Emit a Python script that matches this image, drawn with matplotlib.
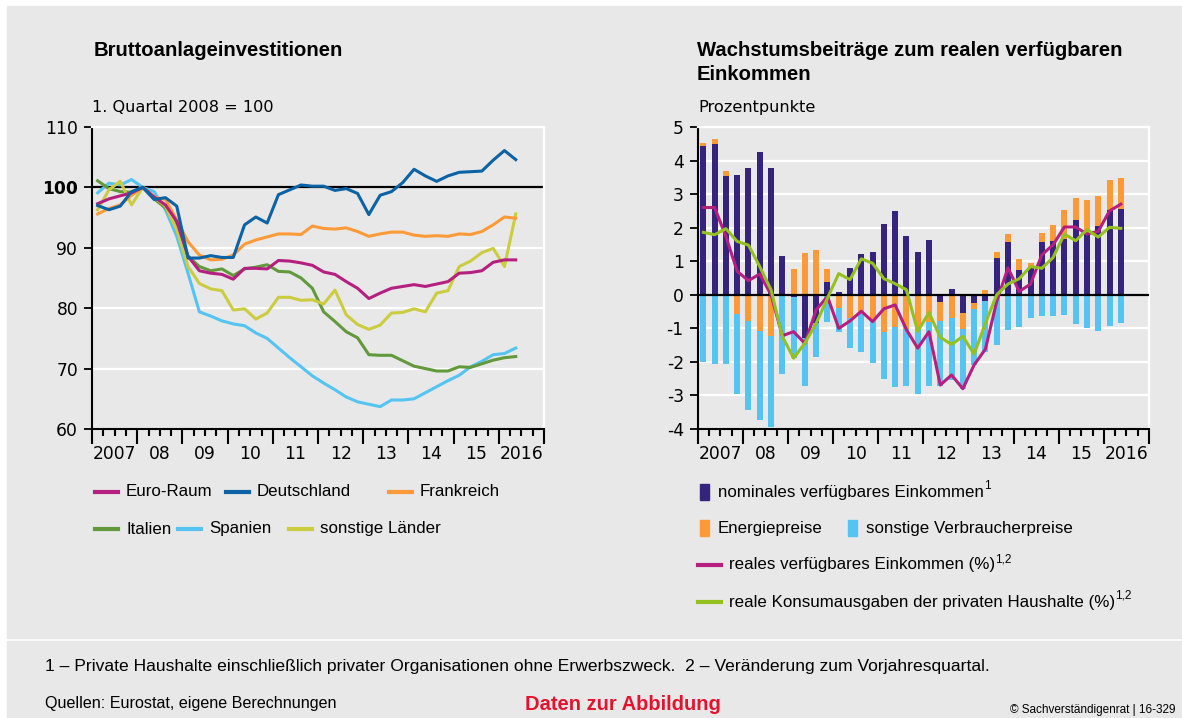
import matplotlib
matplotlib.use("Agg")
import matplotlib.pyplot as plt
import matplotlib.transforms as mtransforms
from matplotlib.patches import Rectangle
from matplotlib.lines import Line2D
import numpy as np

W, H = 1182, 718

# ── Data ──────────────────────────────────────────────────────────────────────
START_YEAR = 2007
N_QUARTERS = 38          # 2007 Q1 … 2016 Q2
YEAR_LABELS = ["2007", "08", "09", "10", "11", "12", "13", "14", "15", "2016"]

# Bruttoanlageinvestitionen, 1. Quartal 2008 = 100
euro_raum = [97.3, 98.1, 98.6, 99.1, 100.0, 98.4, 97.1, 94.4, 88.6, 86.2,
             85.8, 85.6, 84.8, 86.6, 86.6, 86.5, 87.9, 87.8, 87.5, 87.1,
             86.0, 85.6, 84.4, 83.3, 81.6, 82.5, 83.3, 83.6, 83.9, 83.6,
             84.0, 84.4, 85.8, 85.9, 86.2, 87.6, 88.0, 88.0]
deutschland = [97.0, 96.3, 96.9, 99.3, 100.0, 98.0, 98.3, 96.9, 88.3, 88.3,
               88.7, 88.4, 88.4, 93.8, 95.1, 94.1, 98.8, 99.6, 100.4, 100.2,
               100.2, 99.5, 99.8, 99.0, 95.5, 98.7, 99.3, 100.8, 103.0, 101.9,
               101.0, 101.9, 102.5, 102.6, 102.7, 104.5, 106.1, 104.6]
frankreich = [95.6, 96.5, 97.1, 98.7, 100.0, 98.4, 98.0, 94.6, 91.0, 88.8,
              88.0, 88.1, 88.8, 90.6, 91.3, 91.8, 92.3, 92.3, 92.2, 93.6,
              93.2, 93.1, 93.3, 92.7, 91.9, 92.3, 92.6, 92.6, 92.1, 91.9,
              92.0, 91.9, 92.3, 92.2, 92.7, 93.8, 95.1, 94.9]
italien = [101.1, 99.8, 99.3, 99.2, 100.0, 98.1, 96.6, 93.8, 88.6, 86.9,
           86.2, 86.5, 85.4, 86.5, 86.8, 87.2, 86.1, 86.0, 85.0, 83.3,
           79.4, 77.8, 76.1, 75.1, 72.3, 72.2, 72.2, 71.3, 70.4, 70.0,
           69.6, 69.6, 70.3, 70.2, 70.8, 71.4, 71.8, 72.0]
spanien = [99.1, 100.7, 100.4, 101.3, 100.0, 99.3, 96.3, 91.9, 85.8, 79.4,
           78.7, 77.9, 77.4, 77.1, 75.9, 75.0, 73.4, 71.8, 70.3, 68.8,
           67.6, 66.5, 65.3, 64.5, 64.1, 63.7, 64.8, 64.8, 65.0, 66.0,
           67.0, 68.0, 68.9, 70.3, 71.2, 72.3, 72.5, 73.4]
sonstige = [96.3, 99.6, 101.0, 97.1, 100.0, 98.4, 96.9, 93.0, 86.9, 84.1,
            83.2, 82.9, 79.7, 79.9, 78.2, 79.2, 81.8, 81.8, 81.3, 81.4,
            80.7, 83.0, 78.9, 77.3, 76.5, 77.2, 79.2, 79.3, 79.9, 79.4,
            82.5, 82.9, 86.9, 87.8, 89.2, 89.9, 86.9, 95.6]

# Wachstumsbeiträge, Prozentpunkte
nominal = [4.44, 4.50, 3.55, 3.58, 3.79, 4.26, 3.79, 1.16, -0.07, -1.29,
           -0.85, 0.38, 0.09, 0.81, 1.22, 1.28, 2.12, 2.50, 1.76, 1.28,
           1.64, -0.21, 0.18, -0.53, -0.24, -0.18, 1.11, 1.58, 0.75, 0.83,
           1.58, 1.61, 1.66, 2.24, 1.84, 2.06, 2.53, 2.56]
energie = [0.08, 0.15, 0.15, -0.57, -0.78, -1.07, -1.22, 0.0, 0.77, 1.24,
           1.34, 0.39, -0.38, -0.70, -0.55, -0.75, -1.12, -0.97, -1.02, -1.00,
           -0.80, -0.57, -0.68, -0.48, -0.18, 0.15, 0.17, 0.24, 0.33, 0.12,
           0.27, 0.48, 0.87, 0.65, 0.97, 0.89, 0.90, 0.93]
verbraucher = [-1.99, -2.06, -2.06, -2.38, -2.65, -2.66, -2.71, -2.36, -1.81, -1.44,
               -0.99, -0.80, -0.74, -0.90, -1.17, -1.27, -1.38, -1.79, -1.69, -1.95,
               -1.91, -1.93, -1.86, -1.80, -1.67, -1.54, -1.50, -1.04, -0.97, -0.68,
               -0.62, -0.62, -0.59, -0.86, -0.98, -1.07, -0.93, -0.83]
real_einkommen = [2.60, 2.60, 1.74, 0.70, 0.42, 0.62, 0.00, -1.22, -1.10, -1.45,
                  -0.45, -0.05, -1.00, -0.78, -0.49, -0.80, -0.42, -0.30, -1.04, -1.59,
                  -1.10, -2.69, -2.39, -2.80, -2.09, -1.62, -0.20, 0.80, 0.10, 0.32,
                  1.19, 1.49, 2.02, 2.02, 1.81, 1.89, 2.50, 2.70]
real_konsum = [1.86, 1.79, 1.97, 1.59, 1.48, 0.84, 0.15, -1.24, -1.89, -1.44,
               -0.85, -0.10, 0.63, 0.45, 1.07, 0.94, 0.48, 0.33, 0.15, -1.09,
               -0.53, -1.27, -1.48, -1.24, -1.77, -0.85, 0.00, 0.32, 0.48, 0.84,
               0.79, 1.11, 1.81, 1.61, 1.94, 1.72, 2.01, 1.98]

# ── Style ─────────────────────────────────────────────────────────────────────
BG = "#e8e8e8"
MAGENTA = "#b41f80"
DBLUE = "#0b62a4"
ORANGE = "#fd9a38"
GREEN = "#62993a"
LBLUE = "#55c4f2"
YELLOW = "#cccc40"
NAVY = "#35237e"
LIME = "#94c11f"
RED = "#e3132d"

TEXT_FONT = ["Liberation Sans", "DejaVu Sans"]
TICK_FONT = ["DejaVu Sans"]
TICK_SIZE = 12.3
LEG_SIZE = 12.2

x = START_YEAR + (np.arange(N_QUARTERS) + 0.5) / 4


def fxy(px, py):
    return px / W, 1 - py / H


fig = plt.figure(figsize=(W / 100, H / 100), dpi=100)
fig.patch.set_facecolor("white")
fig.add_artist(Rectangle(fxy(7, 638), (W - 7) / W, (638 - 6) / H,
                         transform=fig.transFigure, color=BG, zorder=-10))
fig.add_artist(Rectangle(fxy(7, 718), (W - 7) / W, (718 - 641) / H,
                         transform=fig.transFigure, color=BG, zorder=-10))


def style_axes(ax, ylim, yticks, ylabels):
    ax.set_facecolor(BG)
    ax.set_xlim(START_YEAR, START_YEAR + 10)
    ax.set_ylim(*ylim)
    ax.set_yticks(yticks)
    ax.set_yticklabels(ylabels, family=TICK_FONT, fontsize=TICK_SIZE)
    ax.set_xticks(np.arange(START_YEAR, START_YEAR + 11))
    ax.set_xticks(np.arange(START_YEAR, START_YEAR + 10.01, 0.25), minor=True)
    ax.set_xticklabels([])
    ax.tick_params(axis="x", which="major", length=11, width=1.5, direction="out", color="black")
    ax.tick_params(axis="x", which="minor", length=5, width=1.5, direction="out", color="black")
    ax.tick_params(axis="y", length=6, width=1.3, pad=4, color="black")
    ax.yaxis.grid(True, color="white", linewidth=1.6, zorder=0)
    ax.set_axisbelow(True)
    ax.spines["left"].set_linewidth(1.5)
    ax.spines["bottom"].set_linewidth(1.5)
    ax.spines["right"].set_color("white")
    ax.spines["right"].set_linewidth(1.6)
    ax.spines["top"].set_color("white")
    ax.spines["top"].set_linewidth(1.6)
    trans = mtransforms.blended_transform_factory(ax.transData, fig.transFigure)
    for k, lab in enumerate(YEAR_LABELS):
        ax.text(START_YEAR + k + 0.5, 1 - 454 / H, lab, transform=trans,
                ha="center", va="center", family=TICK_FONT, fontsize=TICK_SIZE)


# ── Left: Bruttoanlageinvestitionen ───────────────────────────────────────────
ax1 = fig.add_axes([92 / W, 1 - 429 / H, 452 / W, 302 / H])
style_axes(ax1, (60, 110), [60, 70, 80, 90, 100, 110],
           ["60", "70", "80", "90", "100", "110"])
ax1.get_yticklabels()[4].set_fontweight("bold")
ax1.axhline(100, color="black", linewidth=1.6, zorder=1)
left_series = [
    (spanien, LBLUE), (italien, GREEN), (sonstige, YELLOW),
    (frankreich, ORANGE), (euro_raum, MAGENTA), (deutschland, DBLUE),
]
for vals, col in left_series:
    ax1.plot(x, vals, color=col, linewidth=2.2, zorder=3)

# ── Right: Wachstumsbeiträge ──────────────────────────────────────────────────
ax2 = fig.add_axes([697.7 / W, 1 - 429 / H, 451.3 / W, 302 / H])
style_axes(ax2, (-4, 5), list(range(-4, 6)), [str(v) for v in range(-4, 6)])
pos_base = np.zeros(N_QUARTERS)
neg_base = np.zeros(N_QUARTERS)
for vals, col in [(nominal, NAVY), (energie, ORANGE), (verbraucher, LBLUE)]:
    v = np.asarray(vals)
    bottom = np.where(v >= 0, pos_base, neg_base)
    ax2.bar(x, v, width=0.133, bottom=bottom, color=col, linewidth=0, zorder=2)
    pos_base += np.clip(v, 0, None)
    neg_base += np.clip(v, None, 0)
ax2.axhline(0, color="black", linewidth=1.6, zorder=3)
ax2.plot(x, real_einkommen, color=MAGENTA, linewidth=2.2, zorder=4)
ax2.plot(x, real_konsum, color=LIME, linewidth=2.2, zorder=5)

# ── Titles ────────────────────────────────────────────────────────────────────
TITLE_KW = dict(family=TEXT_FONT, fontweight="bold", fontsize=14.6, va="baseline")
fig.text(*fxy(94, 56), "Bruttoanlageinvestitionen", **TITLE_KW)
fig.text(*fxy(697, 56), "Wachstumsbeiträge zum realen verfügbaren", **TITLE_KW)
fig.text(*fxy(697, 80), "Einkommen", **TITLE_KW)
fig.text(*fxy(92, 112), "1. Quartal 2008 = 100", family=TICK_FONT, fontsize=11.6, va="baseline")
fig.text(*fxy(698, 112), "Prozentpunkte", family=TICK_FONT, fontsize=11.6, va="baseline")

# ── Legends ───────────────────────────────────────────────────────────────────
renderer = fig.canvas.get_renderer()


def add_sup(t, py, sup):
    bb = t.get_window_extent(renderer)
    fig.text(bb.x1 / W, 1 - (py - 6) / H, sup, family=TEXT_FONT,
             fontsize=8.5, va="center")


def leg_line(px, py, col, label, sup=None):
    fig.add_artist(Line2D([px / W, (px + 23) / W], [1 - py / H] * 2, color=col,
                          linewidth=3, transform=fig.transFigure))
    t = fig.text(*fxy(px + 31, py), label, family=TEXT_FONT, fontsize=LEG_SIZE, va="center")
    if sup:
        add_sup(t, py, sup)


def leg_box(px, py, col, label, sup=None):
    fig.add_artist(Rectangle((px / W, 1 - (py + 8) / H), 9 / W, 16 / H,
                             color=col, transform=fig.transFigure))
    t = fig.text(*fxy(px + 18, py), label, family=TEXT_FONT, fontsize=LEG_SIZE, va="center")
    if sup:
        add_sup(t, py, sup)


leg_line(95, 492, MAGENTA, "Euro-Raum")
leg_line(226, 492, DBLUE, "Deutschland")
leg_line(389, 492, ORANGE, "Frankreich")
leg_line(95, 529, GREEN, "Italien")
leg_line(178, 529, LBLUE, "Spanien")
leg_line(289, 529, YELLOW, "sonstige Länder")

leg_box(700, 492, NAVY, "nominales verfügbares Einkommen", "1")
leg_box(700, 528, ORANGE, "Energiepreise")
leg_box(848, 528, LBLUE, "sonstige Verbraucherpreise")
leg_line(698, 565, MAGENTA, "reales verfügbares Einkommen (%)", "1,2")
leg_line(698, 602, LIME, "reale Konsumausgaben der privaten Haushalte (%)", "1,2")

# ── Footer ────────────────────────────────────────────────────────────────────
fig.text(*fxy(45, 671), "1 – Private Haushalte einschließlich privater Organisationen ohne "
         "Erwerbszweck.  2 – Veränderung zum Vorjahresquartal.",
         family=TEXT_FONT, fontsize=12.6, va="baseline")
fig.text(*fxy(45, 708), "Quellen: Eurostat, eigene Berechnungen", family=TEXT_FONT,
         fontsize=11.6, va="baseline")
fig.text(*fxy(525, 710), "Daten zur Abbildung", family=TEXT_FONT, fontweight="bold",
         fontsize=14.5, color=RED, va="baseline")
fig.text(*fxy(1176, 713), "© Sachverständigenrat | 16-329", family=TEXT_FONT,
         fontsize=8.5, ha="right", va="baseline")

fig.savefig("out.png", dpi=100, facecolor="white")
